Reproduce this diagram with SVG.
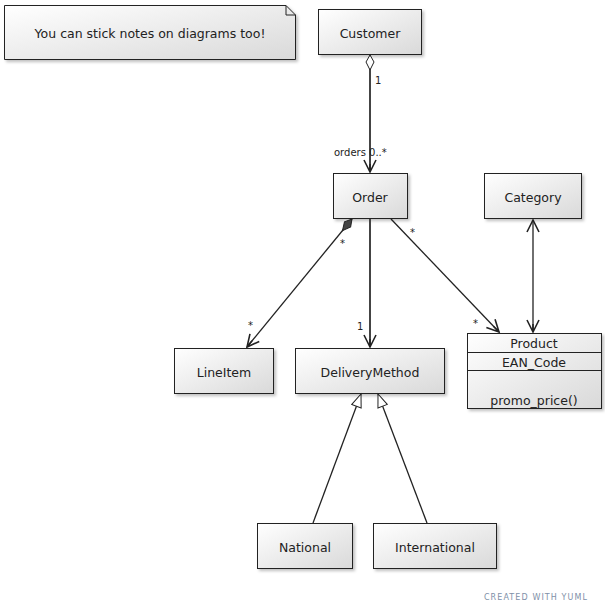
<svg xmlns="http://www.w3.org/2000/svg" width="605" height="613" viewBox="0 0 605 613">
<defs>
<linearGradient id="g" x1="0" y1="0" x2="1" y2="1">
<stop offset="0" stop-color="#ffffff"/>
<stop offset="1" stop-color="#d9d9d9"/>
</linearGradient>
<filter id="sh" x="-10%" y="-10%" width="130%" height="140%">
<feDropShadow dx="2" dy="2" stdDeviation="1.5" flood-color="#000" flood-opacity="0.25"/>
</filter>
<marker id="open" markerWidth="16" markerHeight="16" refX="14" refY="8" orient="auto" markerUnits="userSpaceOnUse">
<path d="M2,2 L14,8 L2,14 M14,8 L6,8" fill="none" stroke="#222" stroke-width="1.6"/>
</marker>
<marker id="openS" markerWidth="16" markerHeight="16" refX="2" refY="8" orient="auto" markerUnits="userSpaceOnUse">
<path d="M14,2 L2,8 L14,14" fill="none" stroke="#222" stroke-width="1.6"/>
</marker>
<marker id="tri" markerWidth="16" markerHeight="16" refX="14" refY="6" orient="auto" markerUnits="userSpaceOnUse">
<path d="M1,1 L14,6 L1,11 Z" fill="#fff" stroke="#222" stroke-width="1"/>
</marker>
<marker id="dia" markerWidth="20" markerHeight="12" refX="1" refY="6" orient="auto" markerUnits="userSpaceOnUse">
<path d="M1,6 L8,2 L16,6 L8,10 Z" fill="#fff" stroke="#222" stroke-width="1"/>
</marker>
<marker id="diaF" markerWidth="20" markerHeight="12" refX="1" refY="6" orient="auto" markerUnits="userSpaceOnUse">
<path d="M1,6 L8,2 L16,6 L8,10 Z" fill="#444" stroke="#222" stroke-width="1"/>
</marker>
</defs>
<style>
.box{fill:url(#g);stroke:#222;stroke-width:1;filter:url(#sh)}
.t{font-family:"DejaVu Sans",Verdana,sans-serif;font-size:12.5px;fill:#222;text-anchor:middle}
.s{font-family:"DejaVu Sans",Verdana,sans-serif;font-size:10px;fill:#222}
.c{fill:none;stroke:#222;stroke-width:1.3}
.cb{fill:none;stroke:#444;stroke-width:2}
</style>
<rect width="605" height="613" fill="#fff"/>
<g id="note">
<path class="box" d="M4.5,5.5 H286 L295.5,15 V59.5 H4.5 Z"/>
<path d="M286,5.5 V15 H295.5" fill="none" stroke="#222" stroke-width="1"/>
<text class="t" x="150" y="38">You can stick notes on diagrams too!</text>
</g>
<g id="Customer"><rect class="box" x="318.5" y="9.5" width="103" height="45"/><text class="t" x="370" y="38">Customer</text></g>
<g id="Order"><rect class="box" x="333.5" y="173.5" width="74" height="45"/><text class="t" x="370" y="202">Order</text></g>
<g id="Category"><rect class="box" x="484.5" y="173.5" width="97" height="45"/><text class="t" x="533" y="202">Category</text></g>
<g id="Product"><rect class="box" x="467.5" y="333.5" width="134" height="75"/>
<line x1="467.5" y1="352.5" x2="601.5" y2="352.5" stroke="#222"/>
<line x1="467.5" y1="370.5" x2="601.5" y2="370.5" stroke="#222"/>
<text class="t" x="534" y="348">Product</text><text class="t" x="534" y="367">EAN_Code</text><text class="t" x="534" y="405">promo_price()</text></g>
<g id="LineItem"><rect class="box" x="174.5" y="348.5" width="99" height="45"/><text class="t" x="224" y="377">LineItem</text></g>
<g id="DeliveryMethod"><rect class="box" x="295.5" y="348.5" width="149" height="45"/><text class="t" x="370" y="377">DeliveryMethod</text></g>
<g id="National"><rect class="box" x="257.5" y="523.5" width="95" height="45"/><text class="t" x="305" y="552">National</text></g>
<g id="International"><rect class="box" x="373.5" y="523.5" width="123" height="45"/><text class="t" x="435" y="552">International</text></g>
<g id="connectors">
<path class="cb" d="M370,55 L370,172" marker-start="url(#dia)" marker-end="url(#open)"/>
<text class="s" x="375" y="84">1</text>
<text class="s" x="334" y="156">orders 0..*</text>
<path class="cb" d="M370,219 L370,347" marker-end="url(#open)"/>
<text class="s" x="357" y="330">1</text>
<path class="c" d="M352,219 L247,347" marker-start="url(#diaF)" marker-end="url(#open)"/>
<text class="s" x="340" y="247">*</text>
<text class="s" x="248" y="329">*</text>
<path class="c" d="M391,219 L499,332" marker-end="url(#open)"/>
<text class="s" x="410" y="236">*</text>
<text class="s" x="473" y="327">*</text>
<path class="c" d="M533,220 L533,332" marker-start="url(#openS)" marker-end="url(#open)"/>
<path class="c" d="M313,523 L361,394" marker-end="url(#tri)"/>
<path class="c" d="M427,523 L378,394" marker-end="url(#tri)"/>
</g>
<text x="536" y="600" font-family="DejaVu Sans,sans-serif" font-size="8px" fill="#8090a8" text-anchor="middle" letter-spacing="1.1">CREATED WITH YUML</text>
</svg>
